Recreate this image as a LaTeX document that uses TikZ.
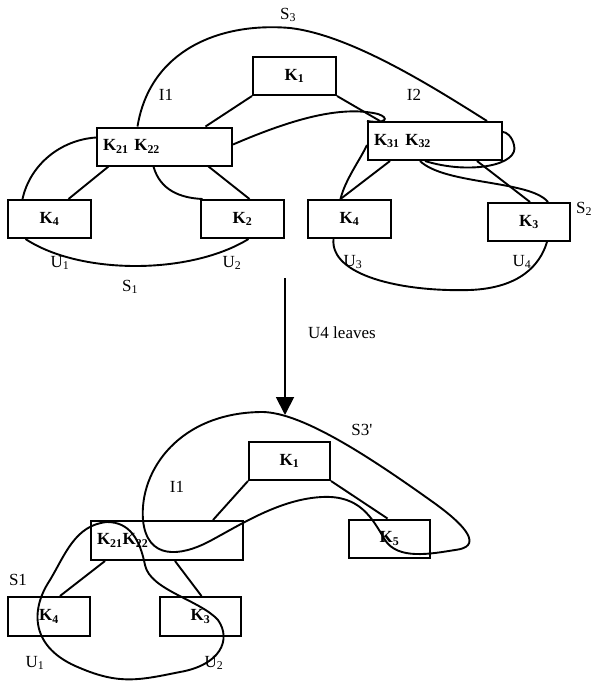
\documentclass[tikz,border=0pt]{standalone}
\usepackage{fontspec}
\setmainfont{Liberation Serif}[Ligatures=TeXOff]
\usetikzlibrary{arrows.meta}
\begin{document}
\begin{tikzpicture}[x=1pt,y=-1pt,
  keybox/.style={draw,line width=2pt,minimum width=83pt,minimum height=38pt,
    inner sep=0pt,font=\fontsize{17}{19}\selectfont\bfseries},
  widebox/.style={keybox,align=left,inner xsep=6pt},
  link/.style={line width=1.9pt},
  lbl/.style={font=\fontsize{17}{19}\selectfont,inner sep=0pt}]
\useasboundingbox (0,0) rectangle (591,683);

% ---------- tree before the leave ----------
\node[keybox] (K1t) at (294.5,76) {K\textsubscript{1}};
\node[widebox,minimum width=135pt,text width=123pt] (Kt2) at (164.5,146.5) {K\textsubscript{21} K\textsubscript{22}};
\node[widebox,minimum width=134pt,text width=122pt] (Kt3) at (435,141) {K\textsubscript{31} K\textsubscript{32}};
\node[keybox] (K4a) at (49.5,219) {K\textsubscript{4}};
\node[keybox] (K2a) at (242.5,219) {K\textsubscript{2}};
\node[keybox] (K4b) at (349.5,219) {K\textsubscript{4}};
\node[keybox,minimum width=82pt] (K3b) at (529,222) {K\textsubscript{3}};

\draw[link] (K1t.south west) -- ([xshift=41]Kt2.north);
\draw[link] (K1t.south east) -- ([xshift=-55]Kt3.north);
\draw[link] ([xshift=-56]Kt2.south) -- ([xshift=19]K4a.north);
\draw[link] ([xshift=44]Kt2.south) -- ([xshift=7]K2a.north);
\draw[link] ([xshift=-45]Kt3.south) -- ([xshift=-9]K4b.north);
\draw[link] ([xshift=42]Kt3.south) -- ([xshift=1]K3b.north);

% subgroup curves
\draw[link] ([xshift=-27]Kt2.north) .. controls (150,50) and (220,22) .. (290,28)
  .. controls (350,35) and (430,85) .. ([xshift=52]Kt3.north);
\draw[link] ([xshift=-27]K4a.north) .. controls (30,165) and (60,140) .. ([yshift=9]Kt2.west);
\draw[link] ([xshift=-11]Kt2.south) .. controls (160,190) and (180,198) .. ([xshift=-40]K2a.north);
\draw[link] ([xshift=-24]K4a.south) .. controls (80,275) and (190,275) .. ([xshift=6]K2a.south);
\draw[link] ([yshift=2]Kt2.east) .. controls (290,120) and (340,105) .. (378,114)
  .. controls (390,118) and (386,124) .. (Kt3.north west);
\draw[link] ([yshift=-4]Kt3.west) .. controls (360,160) and (345,180) .. ([xshift=-9]K4b.north);
\draw[link] ([xshift=-15]Kt3.south) .. controls (445,185) and (530,180) .. ([xshift=19]K3b.north);
\draw[link] ([xshift=-10]Kt3.south) .. controls (470,175) and (520,165) .. (514,145)
  .. controls (512,136) and (506,132) .. ([yshift=9]Kt3.east);
\draw[link] ([xshift=-16]K4b.south) .. controls (330,275) and (400,292) .. (470,290)
  .. controls (520,288) and (540,265) .. ([xshift=18]K3b.south);

\node[lbl] (s3) at (288,15) {S\textsubscript{3}};
\node[lbl] (i1t) at (166,95) {I1};
\node[lbl] (i2) at (414,95) {I2};
\node[lbl] (s2) at (584,209) {S\textsubscript{2}};
\node[lbl] (u1t) at (60,263) {U\textsubscript{1}};
\node[lbl] (u2t) at (232,263) {U\textsubscript{2}};
\node[lbl] (s1t) at (130,287) {S\textsubscript{1}};
\node[lbl] (u3) at (353,262) {U\textsubscript{3}};
\node[lbl] (u4) at (522,262) {U\textsubscript{4}};

% ---------- transition ----------
\coordinate (arrS) at (285,278);
\coordinate (arrE) at (285,415);
\draw[link,-{Triangle[width=18pt,length=18pt]}] (arrS) -- (arrE);
\node[lbl,anchor=west] (lv) at (308,333) {U4 leaves};

% ---------- tree after the leave ----------
\node[keybox,minimum width=81pt] (K1b) at (289.5,461) {K\textsubscript{1}};
\node[widebox,minimum width=152pt,minimum height=39pt,text width=140pt] (Kb2) at (167,540.5) {K\textsubscript{21}K\textsubscript{22}};
\node[keybox,minimum width=81pt] (K5) at (389.5,538.5) {K\textsubscript{5}};
\node[keybox,minimum width=82pt,minimum height=39pt] (K4c) at (49,616.5) {K\textsubscript{4}};
\node[keybox,minimum width=81pt,minimum height=39pt] (K3c) at (200.5,616.5) {K\textsubscript{3}};

\draw[link] (K1b.south west) -- ([xshift=46]Kb2.north);
\draw[link] (K1b.south east) -- ([xshift=-2]K5.north);
\draw[link] ([xshift=-62]Kb2.south) -- ([xshift=11]K4c.north);
\draw[link] ([xshift=8]Kb2.south) -- ([xshift=1]K3c.north);

% subgroup outlines
\draw[link] (263,412) .. controls (300,413) and (360,450) .. (430,500)
  .. controls (470,528) and (482,547) .. (455,550)
  .. controls (430,554) and (398,560) .. (385,540)
  .. controls (372,518) and (360,495) .. (322,497)
  .. controls (280,499) and (240,525) .. (210,541)
  .. controls (180,557) and (147,560) .. (143,520)
  .. controls (139,470) and (180,412) .. cycle;
\draw[link] (107,522) .. controls (130,522) and (140,540) .. (145,565)
  .. controls (150,590) and (200,600) .. (218,620)
  .. controls (232,640) and (220,665) .. (180,672)
  .. controls (140,680) and (120,685) .. (80,668)
  .. controls (30,648) and (30,610) .. (50,580)
  .. controls (65,555) and (75,525) .. cycle;

\node[lbl] (s3p) at (362,430) {S3'};
\node[lbl] (i1b) at (177,487) {I1};
\node[lbl] (s1b) at (18,580) {S1};
\node[lbl] (u1b) at (35,663) {U\textsubscript{1}};
\node[lbl] (u2b) at (214,663) {U\textsubscript{2}};
\end{tikzpicture}
\end{document}
